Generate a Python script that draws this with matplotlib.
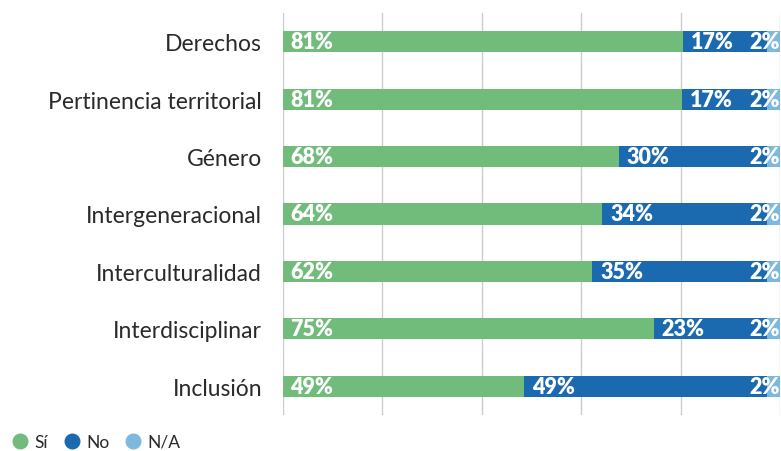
import matplotlib
matplotlib.use("Agg")
import matplotlib.pyplot as plt
from matplotlib.lines import Line2D

categorias = ["Derechos", "Pertinencia territorial", "Género", "Intergeneracional",
              "Interculturalidad", "Interdisciplinar", "Inclusión"]
# segment widths (percent)
si = [80.5, 80.3, 67.6, 64.2, 62.2, 74.6, 48.5]
no = [16.9, 17.1, 29.8, 33.2, 35.2, 22.8, 48.9]
na = [2.6, 2.6, 2.6, 2.6, 2.6, 2.6, 2.6]
# labels as printed on the bars
si_txt = ["81%", "81%", "68%", "64%", "62%", "75%", "49%"]
no_txt = ["17%", "17%", "30%", "34%", "35%", "23%", "49%"]
na_txt = ["2%", "2%", "2%", "2%", "2%", "2%", "2%"]

series = ["Sí", "No", "N/A"]
colores = ["#71BB7B", "#1B6AAF", "#7DB9DF"]

plt.rcParams['font.family'] = ['Lato', 'DejaVu Sans']

fig = plt.figure(figsize=(7.81, 4.52), dpi=100)
ax = fig.add_axes([283 / 781, 36 / 452, 497 / 781, 402 / 452])

y = list(range(len(categorias)))
h = 0.37
izq_na = [a + b for a, b in zip(si, no)]
ax.barh(y, si, height=h, color=colores[0], zorder=2)
ax.barh(y, no, left=si, height=h, color=colores[1], zorder=2)
ax.barh(y, na, left=izq_na, height=h, color=colores[2], zorder=2)

fs = 15.5
for i in y:
    ax.text(1.4, i, si_txt[i], color="white", fontweight="heavy", fontsize=fs,
            va="center", ha="left", zorder=3)
    ax.text(si[i] + 1.6, i, no_txt[i], color="white", fontweight="heavy", fontsize=fs,
            va="center", ha="left", zorder=3)
    ax.text(99.9, i, na_txt[i], color="white", fontweight="heavy", fontsize=fs,
            va="center", ha="right", zorder=3)

ax.set_xlim(0, 100)
ax.set_ylim(len(categorias) - 0.5, -0.5)
ax.set_xticks([0, 20, 40, 60, 80, 100])
ax.set_xticklabels([])
ax.set_yticks(y)
ax.set_yticklabels(categorias, fontsize=16.5, color="#2a2a2a")
ax.tick_params(axis="both", length=0, pad=15)
ax.xaxis.grid(True, color="#CCCCCC", linewidth=1, zorder=0)
for s in ax.spines.values():
    s.set_visible(False)

handles = [Line2D([], [], marker="o", linestyle="", markersize=10.5,
                  markerfacecolor=c, markeredgecolor=c) for c in colores]
fig.legend(handles, series, loc="center left", bbox_to_anchor=(0.006, 9 / 452), ncol=3,
           frameon=False, fontsize=12.5, handlelength=1.0, handletextpad=0.3,
           columnspacing=0.9, borderaxespad=0, labelcolor="#2a2a2a")

plt.savefig("out.png", dpi=100)
